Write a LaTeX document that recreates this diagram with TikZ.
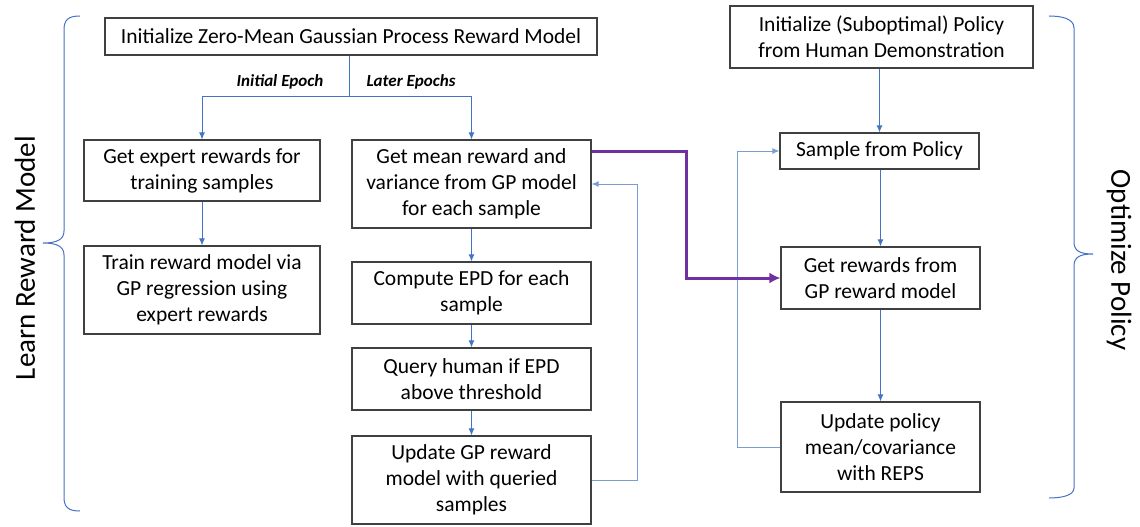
\documentclass[tikz,border=0pt]{standalone}
\usepackage{fontspec}
\setmainfont{Carlito}
\usetikzlibrary{arrows.meta}
\definecolor{flowblue}{HTML}{4472C4}
\definecolor{flowpurple}{HTML}{7030A0}
\definecolor{boxgray}{HTML}{404040}
\begin{document}
\begin{tikzpicture}[x=1pt,y=-1pt,
  box/.style={draw=boxgray,line width=1.2pt,fill=white,align=center,inner sep=1pt,font=\fontsize{21.5}{26}\selectfont},
  flow/.style={draw=flowblue,line width=0.9pt,-{Latex[length=7pt,width=6pt]}},
  back/.style={draw=flowblue!70,line width=0.9pt,-{Latex[length=7pt,width=6pt]}},
  bold/.style={draw=flowpurple,line width=3pt,-{Latex[length=11pt,width=11pt]}},
  brc/.style={draw=flowblue,line width=1pt},
  eplab/.style={font=\fontsize{17}{19}\selectfont\bfseries\itshape},
  side/.style={font=\fontsize{29}{33}\selectfont}]
\useasboundingbox (0,0) rectangle (1140,527);
% top
\node[box,minimum width=492pt,minimum height=37pt] (init) at (351,36.5) {Initialize Zero-Mean Gaussian Process Reward Model};
% left column
\node[box,minimum width=236pt,minimum height=61pt] (expert) at (202,170.5) {Get expert rewards for\\training samples};
\node[box,minimum width=236pt,minimum height=88pt] (train) at (202,290) {Train reward model via\\GP regression using\\expert rewards};
% middle column
\node[box,minimum width=239pt,minimum height=88pt] (mean) at (471.5,184) {Get mean reward and\\variance from GP model\\for each sample};
\node[box,minimum width=239pt,minimum height=62pt] (epd) at (471.5,293) {Compute EPD for each\\sample};
\node[box,minimum width=239pt,minimum height=62pt] (query) at (471.5,379) {Query human if EPD\\above threshold};
\node[box,minimum width=239pt,minimum height=88pt] (update) at (471.5,480) {Update GP reward\\model with queried\\samples};
% right column
\node[box,minimum width=303pt,minimum height=62pt] (pinit) at (881.5,37) {Initialize (Suboptimal) Policy\\from Human Demonstration};
\node[box,minimum width=199pt,minimum height=36pt] (sample) at (879.5,151) {Sample from Policy};
\node[box,minimum width=199pt,minimum height=62pt] (getr) at (880.5,278) {Get rewards from\\GP reward model};
\node[box,minimum width=199pt,minimum height=90pt] (reps) at (880.5,447) {Update policy\\mean/covariance\\with REPS};
% split
\coordinate (split) at (349,96);
\draw[draw=flowblue,line width=0.9pt] (init.south -| split) -- (split);
\draw[flow] (split) -| (expert.north);
\draw[flow] (split) -| (mean.north);
\node[eplab,anchor=south] (lInit) at (280,93) {Initial Epoch};
\node[eplab,anchor=south] (lLater) at (411,93) {Later Epochs};
% vertical flows
\draw[flow] (expert) -- (train);
\draw[flow] (mean) -- (epd);
\draw[flow] (epd) -- (query);
\draw[flow] (query) -- (update);
\draw[flow] (pinit.south -| sample) -- (sample);
\draw[flow] (sample.south -| getr) -- (getr);
\draw[flow] (getr) -- (reps);
% feedback loops
\coordinate (fbm) at (637,184);
\draw[back] (update.east) -| (fbm) -- (mean.east);
\coordinate (fbr) at (737,151);
\draw[back] (reps.west) -| (fbr) -- (sample.west);
% purple
\coordinate (pp) at (686,151);
\draw[bold] (mean.east |- pp) -- (pp) |- (getr.west);
% braces
\draw[brc] (80,16) .. controls (68,16) and (64,20) .. (64,30) -- (64,231)
  .. controls (64,240) and (56,243) .. (43,243)
  .. controls (56,243) and (64,246) .. (64,255) -- (64,497)
  .. controls (64,507) and (68,511) .. (80,511);
\draw[brc] (1049,16) .. controls (1060,16) and (1074,18) .. (1074,28) -- (1074,242)
  .. controls (1074,251) and (1080,254) .. (1093,254)
  .. controls (1080,254) and (1074,257) .. (1074,266) -- (1074,488)
  .. controls (1074,496) and (1060,498) .. (1049,498);
\node[side,rotate=90] (lrm) at (25,258) {Learn Reward Model};
\node[side,rotate=-90] (op) at (1119,260) {Optimize Policy};
\end{tikzpicture}
\end{document}
